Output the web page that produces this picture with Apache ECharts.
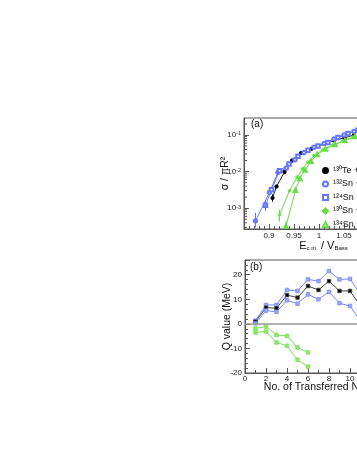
<!DOCTYPE html>
<html><head><meta charset="utf-8">
<script src="https://cdn.jsdelivr.net/npm/echarts@6/dist/echarts.min.js"></script>
<style>html,body{margin:0;padding:0;background:#fff}#c{width:357px;height:462px}</style>
</head><body><div id="c"></div>
<script>
// ---- panel (a): sigma / pi R^2 vs Ecm / VBass ----
const te130 = [[0.907,1.9e-3],[0.915,3.9e-3],[0.931,9.7e-3],[0.946,0.020],[0.964,0.032],[0.985,0.042],[1.011,0.057],[1.030,0.071],[1.051,0.083],[1.070,0.10]];
const sn132 = [[0.873,4.5e-4],[0.901,2.7e-3],[0.918,0.0095],[0.935,0.0125],[0.952,0.021],[0.970,0.033],[0.990,0.046],[1.010,0.058],[1.030,0.078],[1.050,0.10],[1.070,0.125]];
const sn124 = [[0.893,1.2e-3],[0.905,3.2e-3],[0.921,0.0105],[0.940,0.016],[0.958,0.026],[0.978,0.038],[0.998,0.050],[1.018,0.062],[1.038,0.085],[1.058,0.11],[1.078,0.135]];
const sn130 = [[0.921,6.5e-4],[0.941,3.0e-3],[0.956,7e-3],[0.967,0.012],[0.978,0.018],[0.990,0.027],[1.008,0.040],[1.028,0.053],[1.048,0.068],[1.068,0.088]];
const sn134 = [[0.934,3.2e-4],[0.953,3.1e-3],[0.962,6.5e-3],[0.972,0.011],[0.984,0.019],[0.996,0.029],[1.013,0.041],[1.032,0.055],[1.052,0.070],[1.072,0.090]];
// error bars: [x, low, high]
const errA = [[0.873,3.0e-4,7.5e-4,'#6677ff'],[0.893,0.85e-3,1.6e-3,'#6677ff'],[0.907,1.5e-3,2.4e-3,'#000'],[0.921,4.3e-4,9e-4,'#66dd44'],[0.934,2.7e-4,4.5e-4,'#66dd44']];
const logMinor = [3e-4,4e-4,5e-4,6e-4,7e-4,8e-4,9e-4,2e-3,3e-3,4e-3,5e-3,6e-3,7e-3,8e-3,9e-3,2e-2,3e-2,4e-2,5e-2,6e-2,7e-2,8e-2,9e-2,0.2];
const legendNames = ['¹³⁰Te +','¹³²Sn +','¹²⁴Sn +','¹³⁰Sn +','¹³⁴Sn +'];

// ---- panel (b): Q value vs number of transferred neutrons ----
const nTrans = [1,2,3,4,5,6,7,8,9,10,11];
const qBlack = [0.9,6.6,6.4,11.7,10.7,15.4,13.8,17.4,13.4,13.4,7.2];
const qBlueHi = [1.3,7.7,7.7,13.8,13.4,18.1,17.4,21.5,18.1,18.3,12.0];
const qBlueLo = [0.2,5.4,4.9,9.6,8.2,12.0,10.0,13.0,8.4,7.3,1.2];
const nGreen = [1,2,3,4,5,6];
const qGreenHi = [-1.9,-1.1,-4.5,-4.9,-9.6,-11.6];
const qGreenLo = [-3.5,-3.1,-7.6,-8.9,-14.6,-17.4];

const BLUE='#6677ff', GREEN='#66dd44', AX='#555';
const FONT='Liberation Sans';
function pow10Label(v){const e=Math.round(Math.log10(v));return '{b|10}{s|'+e+'}';}
const zip=(a,b)=>a.map((x,i)=>[x,b[i]]);

const chart = echarts.init(document.getElementById('c'), null, {renderer:'canvas'});
const axisCommon = {
  axisLine:{show:true,onZero:false,lineStyle:{color:AX,width:1}},
  axisTick:{show:true,inside:true,length:5,lineStyle:{color:AX}},
  minorTick:{show:true,length:3,lineStyle:{color:AX}},
  splitLine:{show:false},
  axisLabel:{fontFamily:FONT,fontSize:8,color:'#222',margin:3},
  nameTextStyle:{fontFamily:FONT,fontSize:10.5,color:'#111'},
  nameLocation:'middle',
  nameMoveOverlap:false
};
function lineSeries(name,data,color,symbol,opts){
  return Object.assign({name,type:'line',data,symbol,symbolSize:3.5,showSymbol:true,
    lineStyle:{color,width:1},itemStyle:{color,borderColor:color,borderWidth:0.8},
    emphasis:{disabled:true},animation:false,z:3},opts||{});
}
function lineB(name,x,y,color,fill){
  return {name,type:'line',xAxisIndex:1,yAxisIndex:1,data:zip(x,y),symbol:'rect',symbolSize:3.5,
    lineStyle:{color,width:1},itemStyle:{color:fill,borderColor:color,borderWidth:0.8},
    emphasis:{disabled:true},animation:false,z:3};
}
const option = {
  animation:false,
  textStyle:{fontFamily:FONT},
  grid:[
    {left:244,top:118,width:159,height:111,show:true,borderColor:AX,borderWidth:1,backgroundColor:'transparent',containLabel:false,outerBoundsMode:'none'},
    {left:245,top:260,width:168,height:113,show:true,borderColor:AX,borderWidth:1,backgroundColor:'transparent',containLabel:false,outerBoundsMode:'none'}
  ],
  xAxis:[
    Object.assign({},axisCommon,{type:'value',gridIndex:0,min:0.85,max:1.168,interval:0.05,
      minorTick:{show:true,splitNumber:5,length:3,lineStyle:{color:AX}},
      axisLabel:Object.assign({},axisCommon.axisLabel,{showMinLabel:false,showMaxLabel:false}),
      name:'E{s|c.m.} / V{s|Bass}',nameGap:11,
      nameTextStyle:{fontFamily:FONT,fontSize:11,color:'#111',rich:{s:{fontFamily:FONT,fontSize:6,verticalAlign:'bottom',padding:[5,0,0,0]}}}}),
    Object.assign({},axisCommon,{type:'value',gridIndex:1,min:0,max:16,interval:2,
      minorTick:{show:true,splitNumber:2,length:3,lineStyle:{color:AX}},
      axisLabel:Object.assign({},axisCommon.axisLabel,{margin:2}),
      name:'No. of Transferred Neutrons',nameGap:8.5})
  ],
  yAxis:[
    Object.assign({},axisCommon,{type:'log',gridIndex:0,min:2.7e-4,max:0.29,logBase:10,splitNumber:3,
      minorTick:{show:false},
      axisLabel:Object.assign({},axisCommon.axisLabel,{showMinLabel:false,showMaxLabel:false,formatter:pow10Label,
        rich:{b:{fontFamily:FONT,fontSize:8,color:'#222',verticalAlign:'bottom'},s:{fontFamily:FONT,fontSize:5.5,color:'#222',verticalAlign:'top'}}}),
      name:'σ / πR²',nameGap:13}),
    Object.assign({},axisCommon,{type:'value',gridIndex:1,min:-20,max:26,interval:10,
      minorTick:{show:true,splitNumber:5,length:3,lineStyle:{color:AX}},
      axisLabel:Object.assign({},axisCommon.axisLabel,{showMaxLabel:false}),
      name:'Q value (MeV)',nameGap:12.5})
  ],
  legend:{
    orient:'vertical',left:322,top:166,padding:0,itemWidth:5,itemHeight:5,itemGap:4.5,
    textStyle:{fontFamily:FONT,fontSize:9,color:'#111',lineHeight:8},
    data:[
      {name:legendNames[0],icon:'circle'},
      {name:legendNames[1],icon:'emptyCircle'},
      {name:legendNames[2],icon:'emptyRect'},
      {name:legendNames[3],icon:'diamond'},
      {name:legendNames[4],icon:'emptyTriangle'}
    ],
    selectedMode:false
  },
  graphic:[
    {type:'text',left:251,top:119,style:{text:'(a)',fontFamily:FONT,fontSize:10,fill:'#111'}},
    {type:'text',left:250,top:262,style:{text:'(b)',fontFamily:FONT,fontSize:10,fill:'#111'}}
  ],
  series:[
    lineSeries(legendNames[0],te130,'#000','circle',{lineStyle:{color:'#222',width:1}}),
    lineSeries(legendNames[1],sn132,BLUE,'emptyCircle'),
    lineSeries(legendNames[2],sn124,BLUE,'emptyRect'),
    lineSeries(legendNames[3],sn130,GREEN,'diamond'),
    lineSeries(legendNames[4],sn134,GREEN,'emptyTriangle'),
    {type:'custom',xAxisIndex:0,yAxisIndex:0,data:errA,z:4,silent:true,
      renderItem:function(params,api){
        const x=api.value(0);
        const a=api.coord([x,api.value(1)]), b=api.coord([x,api.value(2)]);
        const c=errA[params.dataIndex][3];
        return {type:'line',shape:{x1:a[0],y1:a[1],x2:b[0],y2:b[1]},style:{stroke:c,lineWidth:1}};
      }},
    {type:'custom',xAxisIndex:0,yAxisIndex:0,data:logMinor.map(v=>[0.9,v]),z:5,silent:true,
      renderItem:function(params,api){
        const p=api.coord([api.value(0),api.value(1)]);
        const x0=params.coordSys.x;
        return {type:'line',shape:{x1:x0,y1:p[1],x2:x0+3,y2:p[1]},style:{stroke:AX,lineWidth:1}};
      }},
    lineB('blueHi',nTrans,qBlueHi,'#7788ff','#99aaff'),
    lineB('black',nTrans,qBlack,'#444','#000'),
    lineB('blueLo',nTrans,qBlueLo,'#7788ff','#99aaff'),
    lineB('greenHi',nGreen,qGreenHi,'#77dd55','#88ee66'),
    Object.assign(lineB('greenLo',nGreen,qGreenLo,'#77dd55','#88ee66'),{
      markLine:{silent:true,symbol:'none',label:{show:false},lineStyle:{color:'#999',width:1.5,type:'solid'},data:[{yAxis:0}]}})
  ]
};
chart.setOption(option);
</script>
</body></html>
